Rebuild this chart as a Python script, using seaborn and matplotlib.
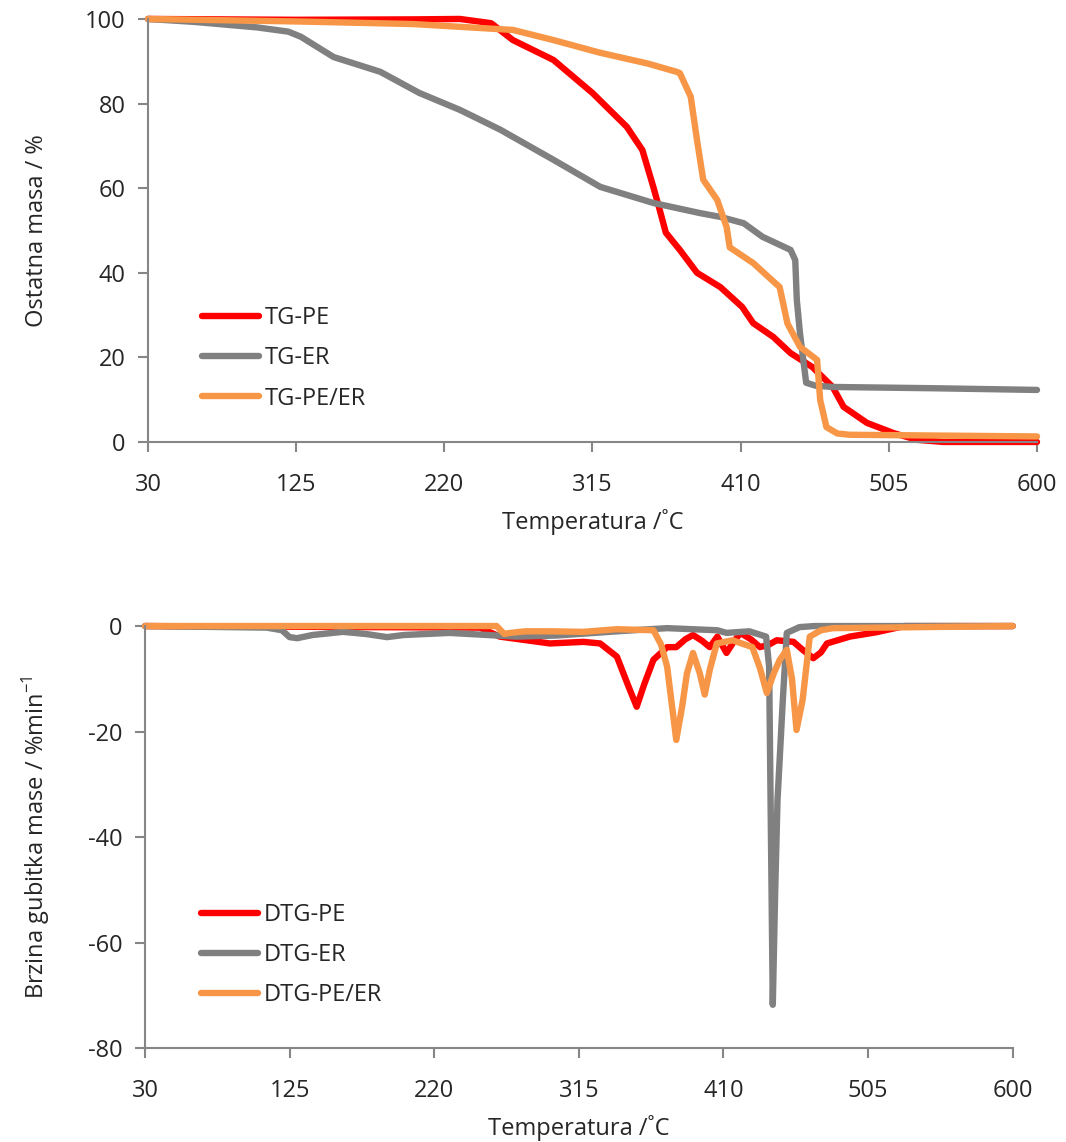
import numpy as np
import pandas as pd
import matplotlib
matplotlib.use('Agg')
import matplotlib.pyplot as plt
import seaborn as sns

# TG curves (residual mass, %)
tg_pe_t = [30, 125, 200, 230, 250, 264, 290, 315, 337, 347, 354, 358, 362, 371, 382, 397,
           411, 418, 431, 442, 456, 469, 476, 491, 508, 523, 540, 600]
tg_pe_m = [100, 99.8, 99.9, 100, 99, 95, 90.3, 82.5, 74.5, 69, 60.3, 55, 49.5, 45.4, 40, 36.6,
           31.9, 28.1, 24.8, 21, 17.7, 13, 8.3, 4.5, 2.1, 0.5, 0, 0]

tg_er_t = [30, 60, 100, 120, 128, 149, 179, 204, 230, 256, 290, 320, 354, 384, 397, 412,
           424, 442, 445, 446, 448, 452, 458, 469, 533, 600]
tg_er_m = [100, 99.3, 98, 97, 95.8, 91, 87.5, 82.5, 78.5, 73.8, 66.7, 60.3, 56.5, 54.1, 53.2, 51.7,
           48.5, 45.4, 43, 33.6, 25.8, 14, 13.3, 13, 12.7, 12.3]

tg_mix_t = [30, 127, 200, 264, 290, 320, 350, 369, 371, 378, 382, 386, 395, 401, 403, 418,
            435, 440, 448, 459, 461, 465, 472, 480, 600]
tg_mix_m = [100, 99.4, 98.8, 97.4, 95, 92, 89.5, 87.5, 87.2, 81.6, 71.4, 62, 57.2, 50.8, 46, 42.3,
            36.6, 28, 22.5, 19.4, 9.9, 3.5, 2, 1.7, 1.3]

# DTG curves (%/min)
dtg_pe_t = [30, 250, 263, 296, 318, 329, 340, 347, 353, 358, 364, 373, 379, 385, 390, 396, 401,
            406, 412, 416, 421, 428, 434, 440, 445, 456, 462, 469, 474, 478, 493, 510, 529, 600]
dtg_pe_v = [0, -0.3, -2, -3.3, -3, -3.3, -5.8, -11, -15.3, -11, -6.4, -4, -4, -2.5, -1.7, -2.8, -4,
            -2, -5.1, -3.3, -1.3, -2.5, -4, -3.5, -2.7, -3, -4.5, -6.1, -5, -3.3, -2, -1.2, 0, 0]

dtg_er_t = [30, 110, 120, 125, 130, 140, 160, 175, 189, 200, 230, 274, 300, 340, 373, 406, 412,
            427, 438, 440, 442.4, 444, 445.5, 449, 451.6, 460, 470, 600]
dtg_er_v = [0, -0.3, -0.8, -2.1, -2.3, -1.7, -1.1, -1.5, -2.1, -1.7, -1.3, -2, -1.8, -1, -0.4, -0.8, -1.3,
            -1, -2, -7.7, -71.8, -50, -33, -14, -1.3, -0.2, 0, 0]

dtg_mix_t = [30, 261, 266, 270, 280, 296, 318, 340, 364, 369, 373, 379, 383, 386, 390, 394.5, 397.7,
             401, 405.6, 416, 429, 434, 438.5, 443, 447, 451.6, 455, 458, 462, 466.7, 474, 482, 600]
dtg_mix_v = [0, 0, -1.5, -1.3, -1, -1, -1.1, -0.6, -0.8, -3.5, -7.7, -21.6, -15, -9, -5.1, -9, -13,
             -8.3, -3.3, -2.7, -4, -8, -12.7, -9, -6.4, -4.5, -10, -19.7, -14, -2, -0.8, -0.4, 0]

x_ticks = [30, 125, 220, 315, 410, 505, 600]
colors = ['#FF0000', '#808080', '#F79646']
fs = 17

sns.set_style('white')
plt.rcParams['font.family'] = ['Open Sans', 'DejaVu Sans']
plt.rcParams['axes.unicode_minus'] = False

fig = plt.figure(figsize=(10.66, 11.42), dpi=100)
ax1 = fig.add_axes([0.1388, 0.613, 0.834, 0.3704])
ax2 = fig.add_axes([0.136, 0.0823, 0.814, 0.3695])

def draw(ax, series, labels):
    for (t, v), lab, c in zip(series, labels, colors):
        df = pd.DataFrame({'T': t, 'v': v})
        sns.lineplot(data=df, x='T', y='v', ax=ax, color=c, linewidth=4.6, label=lab,
                     sort=False, estimator=None, solid_capstyle='round', solid_joinstyle='round')

draw(ax1, [(tg_pe_t, tg_pe_m), (tg_er_t, tg_er_m), (tg_mix_t, tg_mix_m)],
     ['TG-PE', 'TG-ER', 'TG-PE/ER'])
draw(ax2, [(dtg_pe_t, dtg_pe_v), (dtg_er_t, dtg_er_v), (dtg_mix_t, dtg_mix_v)],
     ['DTG-PE', 'DTG-ER', 'DTG-PE/ER'])

ax1.set_ylim(0, 100)
ax1.set_yticks([0, 20, 40, 60, 80, 100])
ax2.set_ylim(-80, 0)
ax2.set_yticks([-80, -60, -40, -20, 0])
ax1.set_ylabel('Ostatna masa / %', fontsize=fs, color='#262626', labelpad=26)
ax2.set_ylabel('Brzina gubitka mase / %min$^{\\mathregular{-1}}$', fontsize=fs,
               color='#262626', labelpad=26)

for ax in (ax1, ax2):
    ax.set_xlim(30, 600)
    ax.set_xticks(x_ticks)
    ax.set_xlabel('Temperatura /˚C', fontsize=fs, color='#262626', labelpad=9)
    sns.despine(ax=ax)
    for s in ('left', 'bottom'):
        ax.spines[s].set_color('#868686')
        ax.spines[s].set_linewidth(1.5)
    ax.tick_params(axis='both', labelsize=fs, direction='out', length=7, width=1.5,
                   left=True, bottom=True, color='#868686', labelcolor='#262626')
    ax.tick_params(axis='x', pad=15)
    ax.tick_params(axis='y', pad=9)
    for ln in ax.get_lines():
        ln.set_clip_on(False)

ax1.legend(loc='lower left', bbox_to_anchor=(0.037, 0.024), frameon=False, fontsize=fs,
           handlelength=2.4, handletextpad=0.25, labelspacing=0.68)
ax2.legend(loc='lower left', bbox_to_anchor=(0.04, 0.046), frameon=False, fontsize=fs,
           handlelength=2.4, handletextpad=0.25, labelspacing=0.68)

fig.savefig('out.png', dpi=100)
